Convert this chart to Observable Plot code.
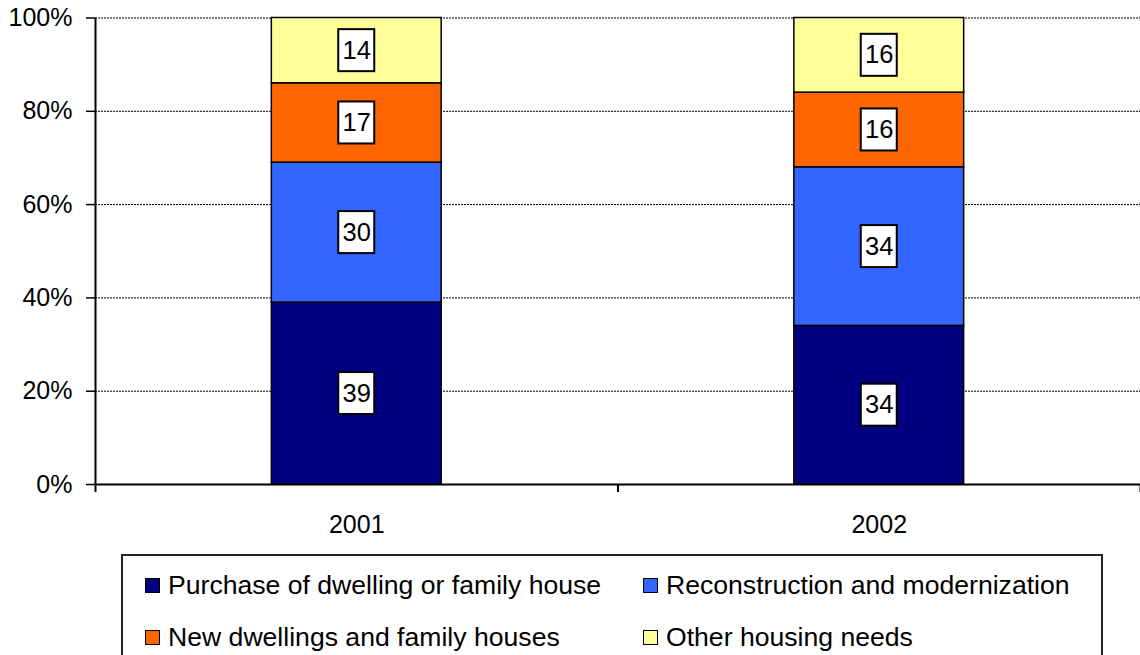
<!DOCTYPE html>
<html><head><meta charset="utf-8">
<script src="https://cdn.jsdelivr.net/npm/d3@7"></script>
<script src="https://cdn.jsdelivr.net/npm/@observablehq/plot@0.6"></script>
<style>
body{margin:0;background:#fff;font-family:"Liberation Sans",Arial,sans-serif;}
#wrap{position:relative;width:1140px;height:655px;overflow:hidden;background:#fff;}
#wrap svg{position:absolute;left:0;top:0;}
#legend{position:absolute;left:121px;top:554px;width:982px;height:130px;border:2px solid #222;box-sizing:border-box;background:#fff;}
.item{position:absolute;display:flex;align-items:center;font-size:26.6px;line-height:32px;height:32px;color:#000;white-space:nowrap;}
.sw{width:13px;height:13px;border:1.5px solid #000;margin-right:8px;flex:none;}
</style></head>
<body><div id="wrap"></div>
<script>
const years = ["2001", "2002"];
const seriesNames = [
  "Purchase of dwelling or family house",
  "Reconstruction and modernization",
  "New dwellings and family houses",
  "Other housing needs"
];
const purchase = [39, 34];
const reconstruction = [30, 34];
const newDwellings = [17, 16];
const otherNeeds = [14, 16];
const seriesColors = ["#000080", "#3366FF", "#FF6600", "#FFFF99"];
const yTicks = [0, 20, 40, 60, 80, 100];

const seriesValues = [purchase, reconstruction, newDwellings, otherNeeds];
const rows = [];
years.forEach((yr, i) => {
  let cum = 0;
  seriesNames.forEach((s, j) => {
    const v = seriesValues[j][i];
    rows.push({year: yr, idx: i, series: s, value: v, y1: cum, y2: cum + v, mid: cum + v / 2});
    cum += v;
  });
});
const half = 0.1625;
const cx = d => d.idx + 0.5;
const font = '"Liberation Sans", Arial, sans-serif';

const plot = Plot.plot({
  width: 1140, height: 545,
  marginTop: 17.5, marginBottom: 61, marginLeft: 95, marginRight: 0,
  style: {fontFamily: font, background: "transparent", color: "#000"},
  x: {domain: [0, years.length], axis: null},
  y: {domain: [0, 100], axis: null},
  color: {domain: seriesNames, range: seriesColors},
  marks: [
    Plot.ruleY(yTicks.filter(t => t > 0), {stroke: "#000", strokeDasharray: "2,1", strokeWidth: 1}),
    Plot.rect(rows, {x1: d => cx(d) - half, x2: d => cx(d) + half, y1: "y1", y2: "y2", fill: "series", stroke: "#000", strokeWidth: 1.5}),
    Plot.rect(rows, {x1: cx, x2: cx, y1: "mid", y2: "mid", insetTop: -21, insetBottom: -21, insetLeft: -18, insetRight: -18, fill: "#fff", stroke: "#000", strokeWidth: 2}),
    Plot.text(rows, {x: cx, y: "mid", text: d => String(d.value), fontSize: 25.5, fill: "#000"}),
    Plot.ruleY([0], {stroke: "#000", strokeWidth: 2}),
    Plot.ruleX([0], {y1: 0, y2: 100, stroke: "#000", strokeWidth: 2}),
    Plot.axisY({ticks: yTicks, tickFormat: d => d + "%", tickSize: 9, tickPadding: 14, fontSize: 25, strokeWidth: 1.5}),
    Plot.axisX({ticks: d3.range(years.length + 1), tickSize: 8, tickFormat: () => "", strokeWidth: 2}),
    Plot.axisX({ticks: years.map((_, i) => i + 0.5), tickSize: 0, tickPadding: 31, tickFormat: d => years[Math.floor(d)], fontSize: 25})
  ]
});
const wrap = document.getElementById("wrap");
wrap.appendChild(plot);

const legend = document.createElement("div");
legend.id = "legend";
const colLeft = [22, 520];
const rowCenter = [29, 81];
seriesNames.forEach((s, j) => {
  const item = document.createElement("div");
  item.className = "item";
  item.style.left = colLeft[j % 2] + "px";
  item.style.top = (rowCenter[Math.floor(j / 2)] - 16) + "px";
  const sw = document.createElement("span");
  sw.className = "sw";
  sw.style.background = seriesColors[j];
  const tx = document.createElement("span");
  tx.textContent = s;
  item.appendChild(sw);
  item.appendChild(tx);
  legend.appendChild(item);
});
wrap.appendChild(legend);
</script>
</body></html>
